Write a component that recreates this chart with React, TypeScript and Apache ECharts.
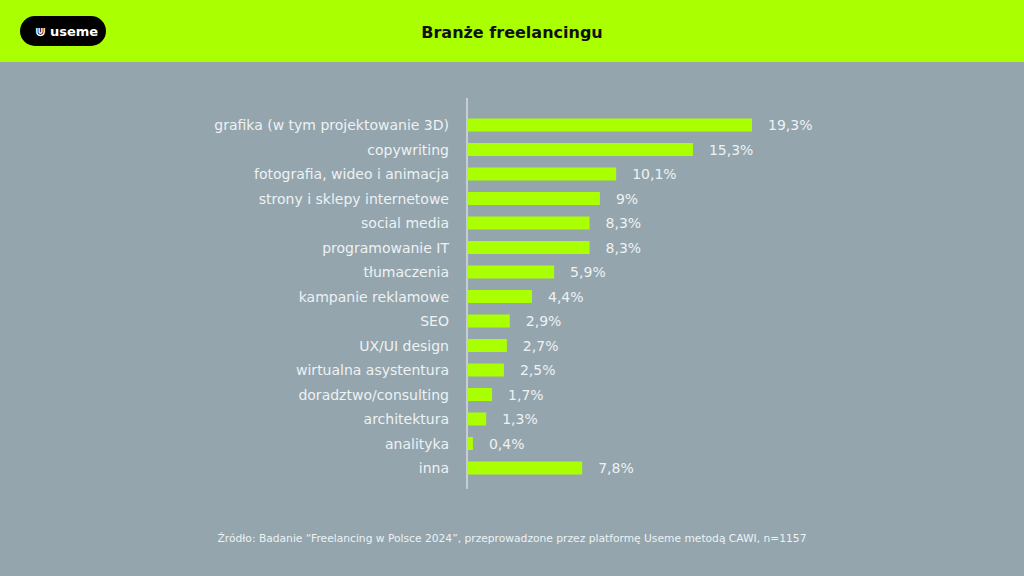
import React, { useEffect, useRef } from "react";
import * as echarts from "echarts";

const categories = [
  "grafika (w tym projektowanie 3D)",
  "copywriting",
  "fotografia, wideo i animacja",
  "strony i sklepy internetowe",
  "social media",
  "programowanie IT",
  "tłumaczenia",
  "kampanie reklamowe",
  "SEO",
  "UX/UI design",
  "wirtualna asystentura",
  "doradztwo/consulting",
  "architektura",
  "analityka",
  "inna",
];
const values = [19.3, 15.3, 10.1, 9, 8.3, 8.3, 5.9, 4.4, 2.9, 2.7, 2.5, 1.7, 1.3, 0.4, 7.8];

const title = "Branże freelancingu";
const source =
  "Źródło: Badanie “Freelancing w Polsce 2024”, przeprowadzone przez platformę Useme metodą CAWI, n=1157";

const GREEN = "#aaff00";
const BG = "#94a5ae";
const TEXT = "#eef2f3";
const FONT = "DejaVu Sans";

export default function App() {
  const ref = useRef<HTMLDivElement>(null);
  useEffect(() => {
    if (!ref.current) return;
    const chart = echarts.init(ref.current, null, { renderer: "svg" });
    chart.setOption({
      animation: false,
      backgroundColor: BG,
      textStyle: { fontFamily: FONT },
      grid: { left: 467, top: 112.75, width: 285 * (20 / 19.3), height: 367.5, containLabel: false },
      xAxis: { type: "value", min: 0, max: 20, show: false },
      yAxis: {
        type: "category",
        data: categories,
        inverse: true,
        axisLine: { show: false },
        axisTick: { show: false },
        axisLabel: { color: TEXT, fontSize: 14, margin: 18, fontFamily: FONT },
      },
      series: [
        {
          type: "bar",
          data: values,
          barWidth: 13,
          itemStyle: { color: GREEN },
          label: {
            show: true,
            position: "right",
            distance: 16,
            color: TEXT,
            fontSize: 14,
            fontFamily: FONT,
            formatter: (p: any) => String(p.value).replace(".", ",") + "%",
          },
        },
      ],
      graphic: [
        { type: "rect", shape: { x: 0, y: 0, width: 1024, height: 62 }, style: { fill: GREEN }, z: -1 },
        {
          type: "line",
          shape: { x1: 467, y1: 98, x2: 467, y2: 489 },
          style: { stroke: "#d5dcdf", lineWidth: 1.5 },
        },
        { type: "rect", shape: { x: 20, y: 16, width: 86, height: 30, r: 15 }, style: { fill: "#000" } },
        {
          type: "text",
          x: 50,
          y: 31,
          style: { text: "useme", fill: "#fff", font: "bold 13px DejaVu Sans", textVerticalAlign: "middle" },
        },
        {
          type: "text",
          x: 35,
          y: 31,
          style: { text: "⋓", fill: "#fff", font: "bold 13px DejaVu Sans", textVerticalAlign: "middle" },
        },
        {
          type: "text",
          x: 512,
          y: 32,
          style: {
            text: title,
            fill: "#111",
            font: "bold 16px DejaVu Sans",
            textAlign: "center",
            textVerticalAlign: "middle",
          },
        },
        {
          type: "text",
          x: 512,
          y: 538,
          style: {
            text: source,
            fill: TEXT,
            font: "10.7px DejaVu Sans",
            textAlign: "center",
            textVerticalAlign: "middle",
          },
        },
      ],
    });
    return () => chart.dispose();
  }, []);
  return <div ref={ref} style={{ position: "fixed", left: 0, top: 0, width: 1024, height: 576 }} />;
}
